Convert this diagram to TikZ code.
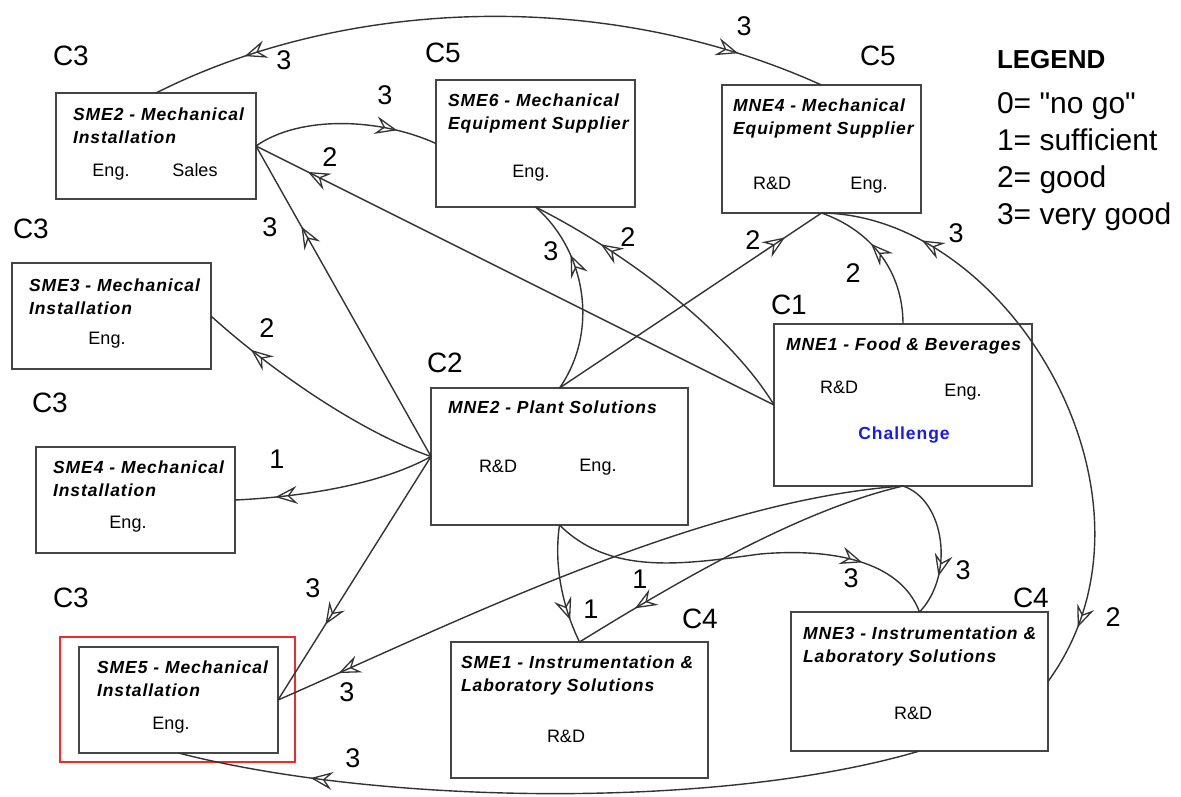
\documentclass[tikz,border=0pt]{standalone}
\usepackage{fontspec}
\setmainfont{Liberation Sans}
\newfontfamily\trackfont{Liberation Sans}[LetterSpace=5.5]
\usetikzlibrary{arrows.meta,decorations.markings}

\definecolor{edgegray}{HTML}{333333}
\definecolor{boxgray}{HTML}{454545}
\definecolor{hilite}{HTML}{EE2B2B}
\definecolor{chalblue}{HTML}{1A1AF0}

\tikzset{
  every node/.style={inner sep=0pt, outer sep=0pt},
  box/.style={draw=boxgray, line width=1.5pt, anchor=north west},
  conn/.style={edgegray, line width=1.4pt},
  fwd/.style={postaction={decorate, decoration={markings, mark=at position #1 with
      {\arrow{Stealth[open, length=22pt, width=18pt, inset=8pt, line width=1.3pt]}}}}},
  bwd/.style={postaction={decorate, decoration={markings, mark=at position #1 with
      {\arrowreversed{Stealth[open, length=22pt, width=18pt, inset=8pt, line width=1.3pt]}}}}},
  ttl/.style={anchor=base west, font=\trackfont\fontsize{17.5}{20}\selectfont\bfseries\itshape},
  txt/.style={anchor=base, font=\fontsize{18}{21}\selectfont},
  cls/.style={anchor=base west, font=\fontsize{28}{32}\selectfont},
  num/.style={font=\fontsize{27}{31}\selectfont},
  leg/.style={anchor=base west, font=\fontsize{30}{34}\selectfont},
}

\begin{document}
\begin{tikzpicture}[x=1pt, y=-1pt]
\useasboundingbox[fill=white] (0,0) rectangle (1181,796);

% ---------- company boxes ----------
\node[box, minimum width=200pt, minimum height=106pt] (sme2) at (56,93) {};
\node[box, minimum width=199pt, minimum height=127pt] (sme6) at (436,80) {};
\node[box, minimum width=199pt, minimum height=128pt] (mne4) at (722,85) {};
\node[box, minimum width=199pt, minimum height=106pt] (sme3) at (12,263) {};
\node[box, minimum width=199pt, minimum height=106pt] (sme4) at (36,447) {};
\node[box, minimum width=257pt, minimum height=137pt] (mne2) at (431,388) {};
\node[box, minimum width=258pt, minimum height=162pt] (mne1) at (774,324) {};
\node[box, minimum width=199pt, minimum height=106pt] (sme5) at (79,647) {};
\node[box, minimum width=257pt, minimum height=136pt] (sme1) at (451,642) {};
\node[box, minimum width=257pt, minimum height=139pt] (mne3) at (791,612) {};
\node[draw=hilite, line width=2.6pt, anchor=north west, minimum width=235pt, minimum height=125pt] (sme5hl) at (60,637) {};

% ---------- box texts ----------
\node[ttl] (sme2a) at (73,120) {SME2 - Mechanical};
\node[ttl] (sme2b) at (73,143) {Installation};
\node[txt] (sme2c) at (111,176) {Eng.};
\node[txt] (sme2d) at (195,176) {Sales};

\node[ttl] (sme6a) at (448,106) {SME6 - Mechanical};
\node[ttl] (sme6b) at (448,129) {Equipment Supplier};
\node[txt] (sme6c) at (531,177) {Eng.};

\node[ttl] (mne4a) at (733,111) {MNE4 - Mechanical};
\node[ttl] (mne4b) at (733,134) {Equipment Supplier};
\node[txt] (mne4c) at (772,189) {R\&D};
\node[txt] (mne4d) at (869,189) {Eng.};

\node[ttl] (sme3a) at (29,291) {SME3 - Mechanical};
\node[ttl] (sme3b) at (29,314) {Installation};
\node[txt] (sme3c) at (107,344) {Eng.};

\node[ttl] (sme4a) at (53,473) {SME4 - Mechanical};
\node[ttl] (sme4b) at (53,496) {Installation};
\node[txt] (sme4c) at (128,528) {Eng.};

\node[ttl] (mne2a) at (448,413) {MNE2 - Plant Solutions};
\node[txt] (mne2c) at (498,472) {R\&D};
\node[txt] (mne2d) at (598,471) {Eng.};

\node[ttl] (mne1a) at (786,350) {MNE1 - Food \& Beverages};
\node[txt] (mne1c) at (839,393) {R\&D};
\node[txt] (mne1d) at (963,396) {Eng.};
\node[anchor=base, text=chalblue, font=\trackfont\fontsize{17.5}{20}\selectfont\bfseries] (mne1e) at (904,439) {Challenge};

\node[ttl] (sme5a) at (97,673) {SME5 - Mechanical};
\node[ttl] (sme5b) at (97,696) {Installation};
\node[txt] (sme5c) at (171,729) {Eng.};

\node[ttl] (sme1a) at (461,668) {SME1 -  Instrumentation \&};
\node[ttl] (sme1b) at (461,691) {Laboratory Solutions};
\node[txt] (sme1c) at (566,742) {R\&D};

\node[ttl] (mne3a) at (803,639) {MNE3 - Instrumentation \&};
\node[ttl] (mne3b) at (803,662) {Laboratory Solutions};
\node[txt] (mne3c) at (913,719) {R\&D};

% ---------- cluster tags ----------
\node[cls] (c3a) at (53,65) {C3};
\node[cls] (c5a) at (425,62) {C5};
\node[cls] (c5b) at (860,65) {C5};
\node[cls] (c3b) at (13,238) {C3};
\node[cls] (c3c) at (32,412) {C3};
\node[cls] (c2) at (427,372) {C2};
\node[cls] (c1) at (771,314) {C1};
\node[cls] (c3d) at (53,607) {C3};
\node[cls] (c4a) at (682,628) {C4};
\node[cls] (c4b) at (1013,607) {C4};

% ---------- legend ----------
\node[anchor=base west, font=\fontsize{26}{30}\selectfont\bfseries] (legh) at (997,68) {LEGEND};
\node[leg] (leg0) at (997,113) {0= \textquotedbl no go\textquotedbl};
\node[leg] (leg1) at (997,150) {1= sufficient};
\node[leg] (leg2) at (997,187) {2= good};
\node[leg] (leg3) at (997,224) {3= very good};

% ---------- ratings ----------
\draw[conn, bwd=0.14, fwd=0.87] (sme2.north) .. controls (340,0) and (600,-15) .. (mne4.north);
\draw[conn, fwd=0.78] (sme2.east) .. controls (300,115) and (380,118) .. (sme6.west);
\draw[conn, fwd=0.9] (mne1.west) -- (sme2.east);
\draw[conn, fwd=0.74] (mne2.west) -- (sme2.east);
\draw[conn, fwd=0.8] (mne2.west) .. controls (355,430) and (265,365) .. (sme3.east);
\draw[conn, fwd=0.8] (mne2.west) .. controls (380,485) and (300,497) .. (sme4.east);
\draw[conn, fwd=0.69] (mne2.west) -- (sme5.east);
\draw[conn, fwd=0.9] (mne1.south) .. controls (700,500) and (450,625) .. (sme5.east);
\draw[conn, fwd=0.82] (mne3.south) .. controls (720,810) and (380,805) .. (sme5.south);
\draw[conn, fwd=0.7] (mne2.north) .. controls (600,330) and (585,250) .. (sme6.south);
\draw[conn, fwd=0.76] (mne1.west) .. controls (735,340) and (640,260) .. (sme6.south);
\draw[conn, fwd=0.86] (mne2.north) -- (mne4.south);
\draw[conn, fwd=0.6] (mne1.north) .. controls (903,270) and (870,230) .. (mne4.south);
\draw[conn, bwd=0.17, fwd=0.9] (mne4.south) .. controls (1010,215) and (1180,500) .. (mne3.east);
\draw[conn, fwd=0.8] (mne2.south) .. controls (553,570) and (565,612) .. (sme1.north);
\draw[conn, fwd=0.82] (mne1.south) .. controls (800,510) and (680,580) .. (sme1.north);
\draw[conn, fwd=0.8] (mne2.south) .. controls (610,575) and (680,565) .. (760,554)
                     .. controls (830,548) and (900,560) .. (mne3.north);
\draw[conn, fwd=0.72] (mne1.south) .. controls (945,500) and (955,575) .. (mne3.north);

% ---------- rating values ----------
\node[num] (n1) at (284,60) {3};
\node[num] (n2) at (744,26) {3};
\node[num] (n3) at (385,95) {3};
\node[num] (n4) at (330,157) {2};
\node[num] (n5) at (270,227) {3};
\node[num] (n6) at (267,328) {2};
\node[num] (n7) at (277,459) {1};
\node[num] (n8) at (313,588) {3};
\node[num] (n9) at (347,692) {3};
\node[num] (n10) at (353,758) {3};
\node[num] (n11) at (551,251) {3};
\node[num] (n12) at (628,237) {2};
\node[num] (n13) at (753,240) {2};
\node[num] (n14) at (853,273) {2};
\node[num] (n15) at (956,233) {3};
\node[num] (n16) at (1113,617) {2};
\node[num] (n17) at (591,609) {1};
\node[num] (n18) at (640,579) {1};
\node[num] (n19) at (851,578) {3};
\node[num] (n20) at (963,570) {3};
\end{tikzpicture}
\end{document}
